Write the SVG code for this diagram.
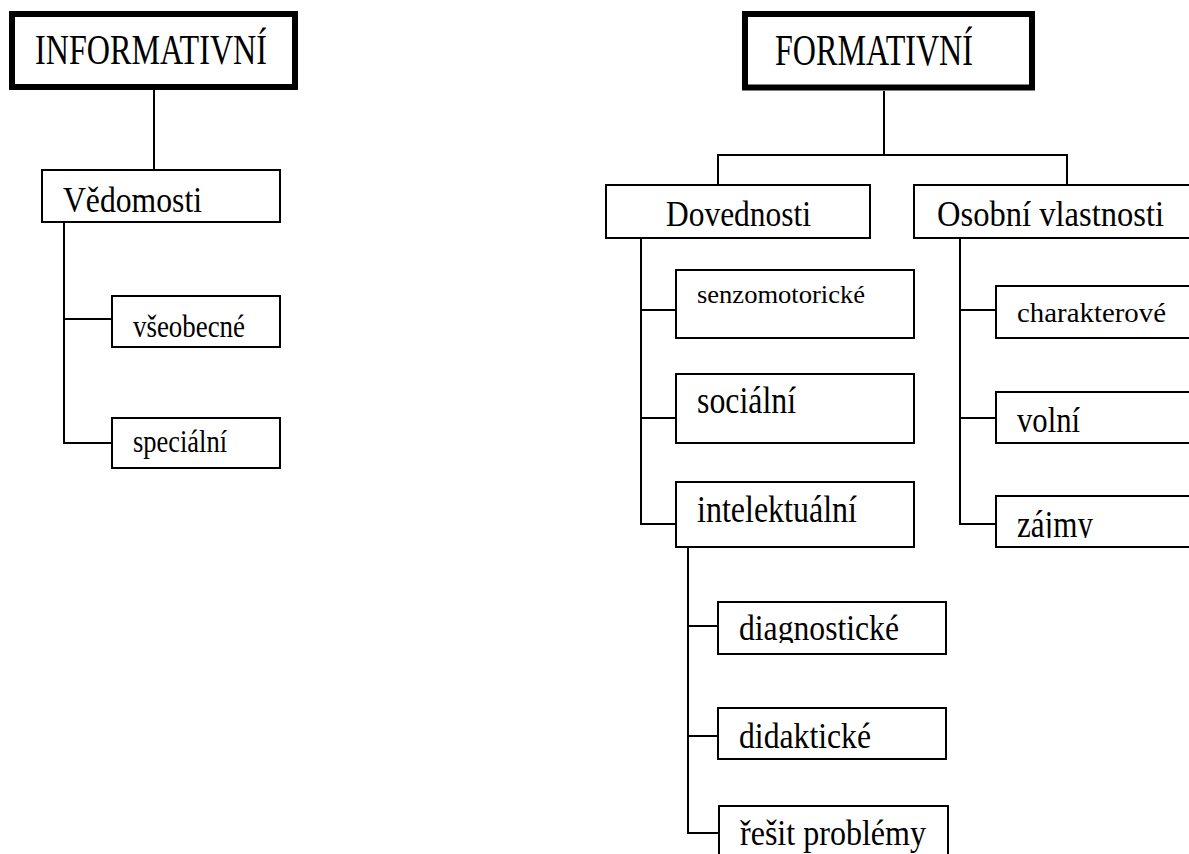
<svg xmlns="http://www.w3.org/2000/svg" width="1189" height="854" viewBox="0 0 1189 854">
<style>
.box{fill:#fff;stroke:#000;stroke-width:2}
.main{fill:#fff;stroke:#000;stroke-width:6}
.t{font-family:"Liberation Serif","Times New Roman",serif;fill:#000}
.conn{fill:none;stroke:#000;stroke-width:2}
</style>
<defs>
<clipPath id="clipZ"><rect x="990" y="490" width="200" height="48"/></clipPath>
<clipPath id="clipD"><rect x="715" y="598" width="235" height="45"/></clipPath>
</defs>
<rect width="1189" height="854" fill="#fff"/>
<g id="connectors">
<path class="conn" d="M154,90 V170"/>
<path class="conn" d="M64,222 V443 H112 M64,319 H112"/>
<path class="conn" d="M884,91 V155 M718,185 V155 H1067 V185"/>
<path class="conn" d="M641,238 V524 H676 M641,310 H676 M641,418 H676"/>
<path class="conn" d="M960,238 V524 H996 M960,310 H996 M960,418 H996"/>
<path class="conn" d="M688,547 V833 H719 M688,626 H718 M688,736 H718"/>
</g>
<g id="informativni">
<rect class="main" x="12" y="14" width="283" height="73"/>
<text class="t" x="35" y="64" font-size="43" textLength="232" lengthAdjust="spacingAndGlyphs">INFORMATIVNÍ</text>
</g>
<g id="vedomosti">
<rect class="box" x="42" y="170" width="238" height="52"/>
<text class="t" x="63" y="212" font-size="36" textLength="139" lengthAdjust="spacingAndGlyphs">Vědomosti</text>
</g>
<g id="vseobecne">
<rect class="box" x="112" y="296" width="168" height="51"/>
<text class="t" x="133" y="337" font-size="32" textLength="112" lengthAdjust="spacingAndGlyphs">všeobecné</text>
</g>
<g id="specialni">
<rect class="box" x="112" y="418" width="168" height="50"/>
<text class="t" x="133" y="452" font-size="31" textLength="94" lengthAdjust="spacingAndGlyphs">speciální</text>
</g>
<g id="formativni">
<rect class="main" x="745" y="14" width="287" height="73.5"/>
<text class="t" x="775" y="65" font-size="44" textLength="198" lengthAdjust="spacingAndGlyphs">FORMATIVNÍ</text>
</g>
<g id="dovednosti">
<rect class="box" x="606" y="185" width="264" height="53"/>
<text class="t" x="666" y="226" font-size="35" textLength="145" lengthAdjust="spacingAndGlyphs">Dovednosti</text>
</g>
<g id="osobni">
<rect class="box" x="914" y="185" width="290" height="53"/>
<text class="t" x="937" y="226" font-size="35" textLength="227" lengthAdjust="spacingAndGlyphs">Osobní vlastnosti</text>
</g>
<g id="senzomotoricke">
<rect class="box" x="676" y="270" width="238" height="68"/>
<text class="t" x="697" y="303" font-size="26" textLength="168" lengthAdjust="spacingAndGlyphs">senzomotorické</text>
</g>
<g id="socialni">
<rect class="box" x="676" y="374" width="238" height="69"/>
<text class="t" x="697" y="413" font-size="38" textLength="99" lengthAdjust="spacingAndGlyphs">sociální</text>
</g>
<g id="intelektualni">
<rect class="box" x="676" y="482" width="238" height="65"/>
<text class="t" x="697" y="522" font-size="37" textLength="160" lengthAdjust="spacingAndGlyphs">intelektuální</text>
</g>
<g id="charakterove">
<rect class="box" x="996" y="286" width="210" height="52"/>
<text class="t" x="1017" y="322" font-size="28" textLength="149" lengthAdjust="spacingAndGlyphs">charakterové</text>
</g>
<g id="volni">
<rect class="box" x="996" y="392" width="210" height="51"/>
<text class="t" x="1017" y="432" font-size="35" textLength="63" lengthAdjust="spacingAndGlyphs">volní</text>
</g>
<g id="zajmy">
<rect class="box" x="996" y="496" width="210" height="51"/>
<text class="t" x="1017" y="537" font-size="37" textLength="76" lengthAdjust="spacingAndGlyphs" clip-path="url(#clipZ)">zájmy</text>
</g>
<g id="diagnosticke">
<rect class="box" x="718" y="602" width="228" height="52"/>
<text class="t" x="739" y="640" font-size="36" textLength="160" lengthAdjust="spacingAndGlyphs" clip-path="url(#clipD)">diagnostické</text>
</g>
<g id="didakticke">
<rect class="box" x="718" y="708" width="228" height="51"/>
<text class="t" x="739" y="748" font-size="36" textLength="132" lengthAdjust="spacingAndGlyphs">didaktické</text>
</g>
<g id="resit">
<rect class="box" x="719" y="806" width="229" height="60"/>
<text class="t" x="740" y="845" font-size="36" textLength="186" lengthAdjust="spacingAndGlyphs">řešit problémy</text>
</g>
</svg>
